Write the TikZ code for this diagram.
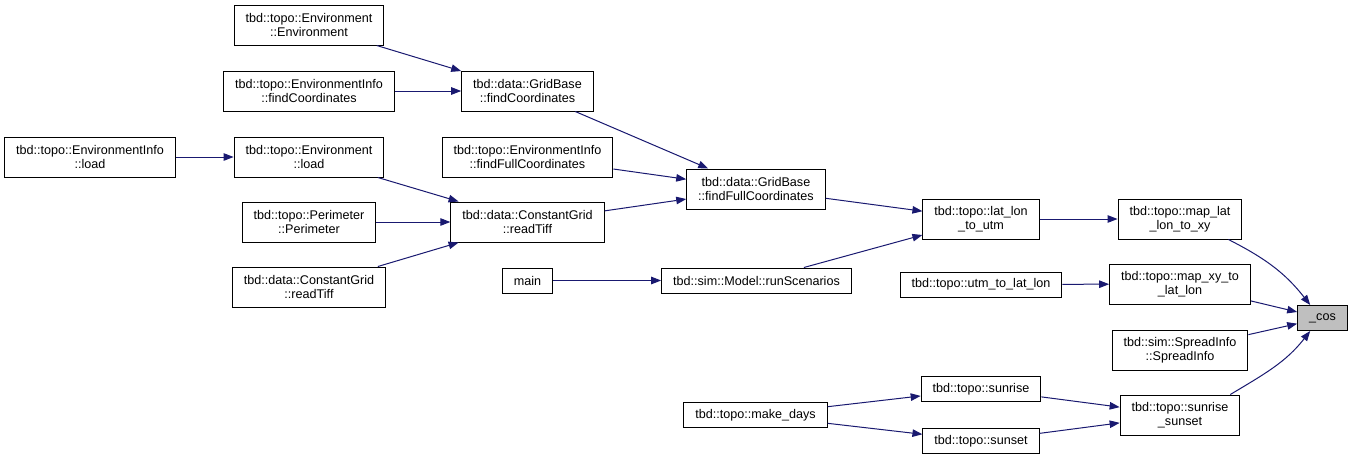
\documentclass[tikz,border=0pt]{standalone}
\usepackage{fontspec}
\setmainfont{Liberation Sans}
\usepackage{xcolor}
\usepackage{tikz}
\usetikzlibrary{arrows.meta}

\definecolor{edgeblue}{RGB}{25,25,112}
\definecolor{focusgray}{RGB}{191,191,191}

\begin{document}
\begin{tikzpicture}[x=1pt,y=-1pt,
    fn/.style={draw=black,line width=1pt,fill=white,inner xsep=11.5pt,inner ysep=0pt,
        minimum height=25pt,align=center,font=\fontsize{12.6}{14}\selectfont},
    fnii/.style={fn,minimum height=40pt},
    call/.style={draw=edgeblue,line width=1pt,-{Triangle[length=10pt,width=7.5pt]}}]
    \useasboundingbox (0,0) rectangle (1353,459);

    \node[fnii] (envEnv) at (309,25) {tbd::topo::Environment\\::Environment};
    \node[fnii] (envInfoFind) at (309,91) {tbd::topo::EnvironmentInfo\\::findCoordinates};
    \node[fnii] (envInfoLoad) at (90,157) {tbd::topo::EnvironmentInfo\\::load};
    \node[fnii] (envLoad) at (309,157) {tbd::topo::Environment\\::load};
    \node[fnii] (perim) at (309,222) {tbd::topo::Perimeter\\::Perimeter};
    \node[fnii] (tiffLeft) at (309,287) {tbd::data::ConstantGrid\\::readTiff};

    \node[fnii] (gridFind) at (527.5,91) {tbd::data::GridBase\\::findCoordinates};
    \node[fnii] (envInfoFull) at (527.5,157) {tbd::topo::EnvironmentInfo\\::findFullCoordinates};
    \node[fnii] (tiff) at (527.5,222) {tbd::data::ConstantGrid\\::readTiff};
    \node[fn] (main) at (527.5,280.5) {main};

    \node[fnii] (gridFull) at (756,189) {tbd::data::GridBase\\::findFullCoordinates};
    \node[fn] (runScen) at (756.5,280.5) {tbd::sim::Model::runScenarios};
    \node[fn] (makeDays) at (755.5,415) {tbd::topo::make\_days};

    \node[fnii] (latLonUtm) at (981,219) {tbd::topo::lat\_lon\\\_to\_utm};
    \node[fn] (utmLatLon) at (981,284.5) {tbd::topo::utm\_to\_lat\_lon};
    \node[fn] (sunrise) at (981,389) {tbd::topo::sunrise};
    \node[fn] (sunset) at (981,441) {tbd::topo::sunset};

    \node[fnii] (mapLatLon) at (1180,219) {tbd::topo::map\_lat\\\_lon\_to\_xy};
    \node[fnii] (mapXy) at (1180,284) {tbd::topo::map\_xy\_to\\\_lat\_lon};
    \node[fnii] (spread) at (1180,350) {tbd::sim::SpreadInfo\\::SpreadInfo};
    \node[fnii] (sunriseSunset) at (1180,415) {tbd::topo::sunrise\\\_sunset};

    \node[fn,fill=focusgray] (cos) at (1322.5,318) {\_cos};

    \draw[call] (envEnv) -- (gridFind);
    \draw[call] (envInfoFind) -- (gridFind);
    \draw[call] (gridFind) -- (gridFull);
    \draw[call] (envInfoLoad) -- (envLoad);
    \draw[call] (envLoad) -- (tiff);
    \draw[call] (perim) -- (tiff);
    \draw[call] (tiffLeft) -- (tiff);
    \draw[call] (envInfoFull) -- (gridFull);
    \draw[call] (tiff) -- (gridFull);
    \draw[call] (gridFull) -- (latLonUtm);
    \draw[call] (main) -- (runScen);
    \draw[call] (runScen) -- (latLonUtm);
    \draw[call] (latLonUtm) -- (mapLatLon);
    \draw[call] (utmLatLon) -- (mapXy);
    \draw[call] (makeDays) -- (sunrise);
    \draw[call] (makeDays) -- (sunset);
    \draw[call] (sunrise) -- (sunriseSunset);
    \draw[call] (sunset) -- (sunriseSunset);
    \draw[call] ([xshift=-14pt]mapLatLon.south east) to[out=-27,in=128] ([xshift=13pt]cos.north west);
    \draw[call] (mapXy) -- (cos);
    \draw[call] (spread) -- (cos);
    \draw[call] ([xshift=-10pt]sunriseSunset.north east) to[out=31,in=-128] ([xshift=13pt]cos.south west);
\end{tikzpicture}
\end{document}
